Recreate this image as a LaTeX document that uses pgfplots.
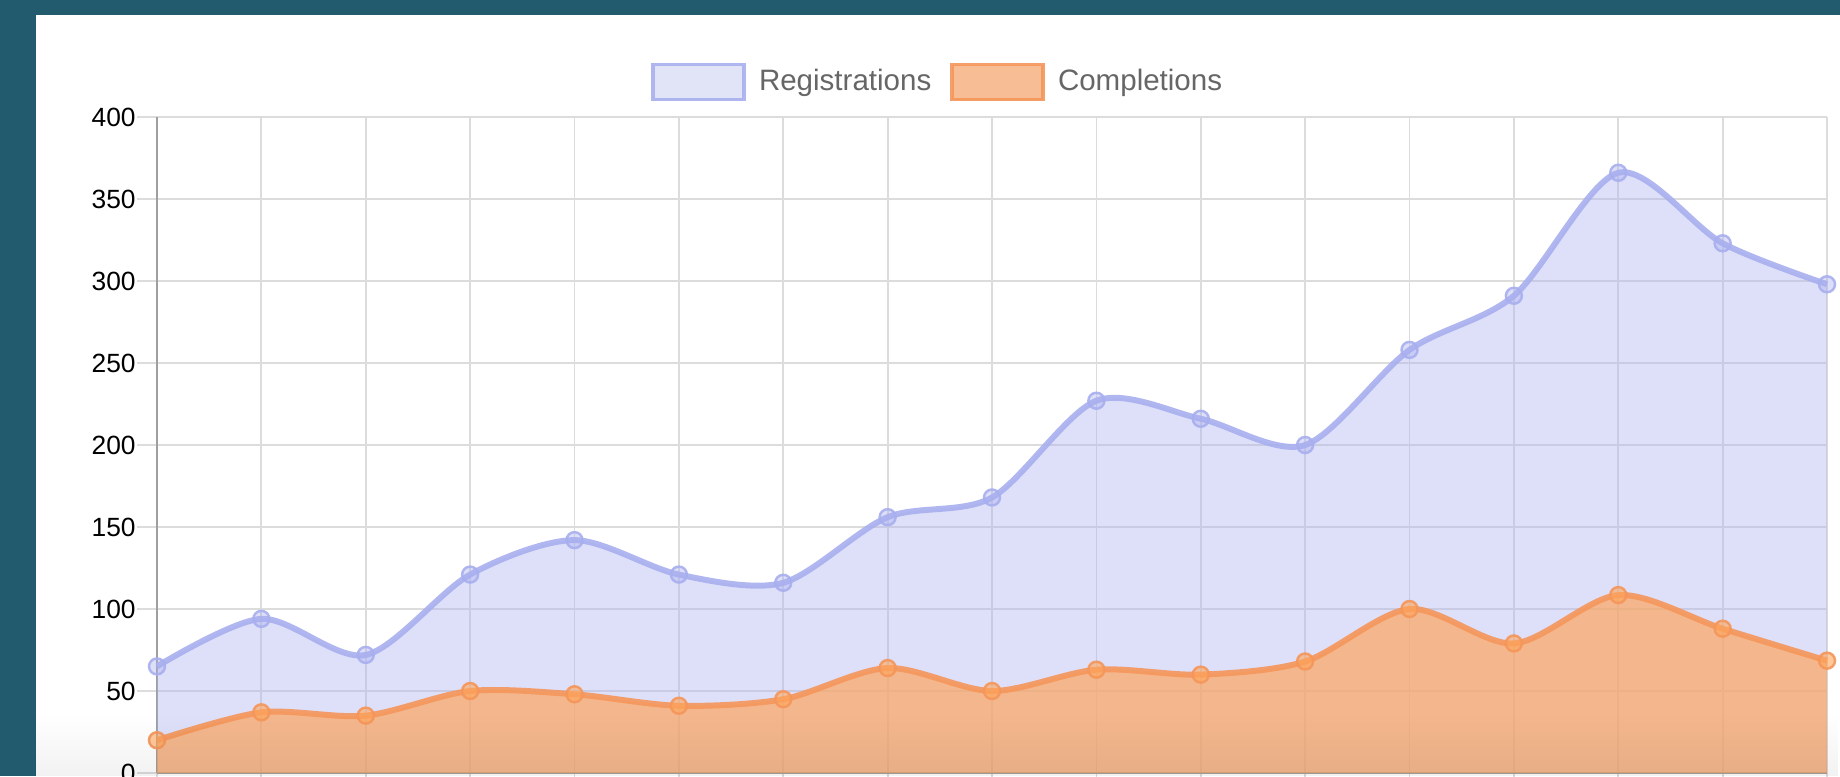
\documentclass[border=0pt]{standalone}
\usepackage{fontspec}
\setmainfont{Liberation Sans}
\usepackage{pgfplots}
\pgfplotsset{compat=1.18}
\usetikzlibrary{fadings}
\definecolor{teal}{RGB}{35,91,110}
\definecolor{blueline}{RGB}{168,175,238}
\definecolor{bluebase}{RGB}{170,176,240}
\definecolor{bluebox}{RGB}{222,224,247}
\definecolor{orangeline}{RGB}{245,150,90}
\definecolor{orangebase}{RGB}{255,165,90}
\definecolor{orangebox}{RGB}{247,184,138}
\definecolor{gridc}{RGB}{220,220,220}
\definecolor{legtext}{RGB}{102,102,102}
\begin{document}
\begin{tikzpicture}
\useasboundingbox (0,0) rectangle (184mm,77.6mm);
\clip (0,0) rectangle (184mm,77.6mm);
\fill[teal] (0,0) rectangle (184mm,77.6mm);
\fill[white] (3.6mm,0) rectangle (184mm,76.1mm);
\begin{axis}[
  at={(15.7mm,0.3mm)}, anchor=south west,
  scale only axis, width=167mm, height=65.6mm,
  xmin=0, xmax=16, ymin=0, ymax=400,
  xtick={0,...,16}, xticklabels={},
  ytick={0,50,...,400},
  grid=major,
  major grid style={gridc, line width=0.5pt},
  axis lines=left,
  axis line style={-, draw=gray!75, line width=0.5pt},
  tick align=outside,
  major tick length=2mm,
  tick style={gridc, line width=0.5pt},
  yticklabel style={font=\fontsize{7.5}{8}\selectfont, text=black, xshift=1.1mm},
  /pgf/number format/assume math mode=true,
  clip=false,
  legend columns=2,
  legend style={at={(rel axis cs:0.469,1.053)}, anchor=center, draw=none, fill=none,
    font=\fontsize{8.4}{9}\selectfont, text=legtext,
    /tikz/every even column/.append style={column sep=1.2mm},
    /tikz/every odd column/.append style={column sep=0mm}},
  legend cell align=left,
]
% fills
\addplot[draw=none, fill=bluebase, fill opacity=0.38, smooth, tension=0.5, forget plot]
coordinates {(0,65)(1,94)(2,72)(3,121)(4,142)(5,121)(6,116)(7,156)(8,168)(9,227)(10,216)(11,200)(12,258)(13,291)(14,366)(15,323)(16,298)} \closedcycle;
\addplot[draw=none, fill=orangebase, fill opacity=0.68, smooth, tension=0.5, forget plot]
coordinates {(0,20)(1,37)(2,35)(3,50)(4,48)(5,41)(6,45)(7,64)(8,50)(9,63)(10,60)(11,68)(12,100)(13,79)(14,108.5)(15,88)(16,68.5)} \closedcycle;
% lines
\addplot[blueline, line width=1.7pt, smooth, tension=0.5, opacity=0.9,
  mark=*, mark size=0.8mm, mark options={fill=bluebase, fill opacity=0.4, line width=0.7pt},
  legend image code/.code={\draw[blueline, line width=0.95pt, fill=bluebox] (0mm,-1.75mm) rectangle (9.1mm,1.75mm); \path (9.6mm,0);}]
coordinates {(0,65)(1,94)(2,72)(3,121)(4,142)(5,121)(6,116)(7,156)(8,168)(9,227)(10,216)(11,200)(12,258)(13,291)(14,366)(15,323)(16,298)};
\addlegendentry{Registrations}
\addplot[orangeline, line width=1.7pt, smooth, tension=0.5, opacity=0.9,
  mark=*, mark size=0.8mm, mark options={fill=orangebase, fill opacity=0.6, line width=0.7pt},
  legend image code/.code={\draw[orangeline, line width=0.95pt, fill=orangebox] (0mm,-1.75mm) rectangle (9.1mm,1.75mm); \path (9.6mm,0);}]
coordinates {(0,20)(1,37)(2,35)(3,50)(4,48)(5,41)(6,45)(7,64)(8,50)(9,63)(10,60)(11,68)(12,100)(13,79)(14,108.5)(15,88)(16,68.5)};
\addlegendentry{Completions}
\end{axis}
\fill[black, fill opacity=0.05, path fading=north] (3.6mm,0) rectangle (184mm,6.2mm);
\end{tikzpicture}
\end{document}
